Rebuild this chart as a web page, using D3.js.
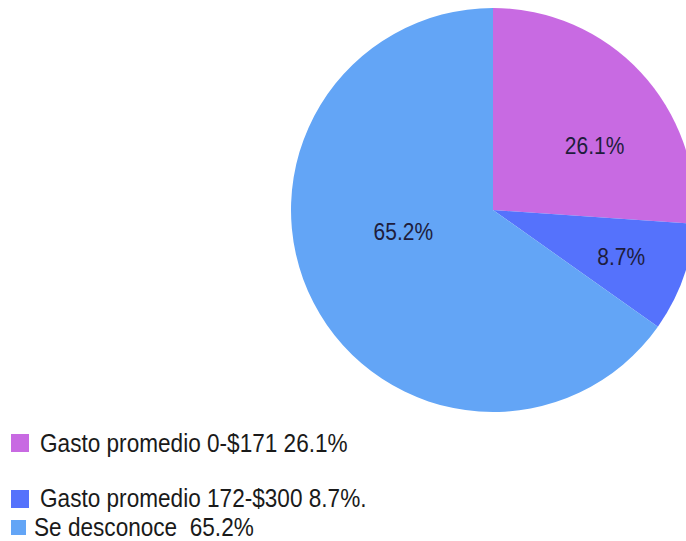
<!DOCTYPE html>
<html>
<head>
<meta charset="utf-8">
<script src="https://cdn.jsdelivr.net/npm/d3@7"></script>
<style>
  body { margin: 0; background: #fff; }
  svg { display: block; }
  text { white-space: pre; }
</style>
</head>
<body>
<div id="chart"></div>
<script>
// data
var categories = ["Gasto promedio 0-$171", "Gasto promedio 172-$300", "Se desconoce"];
var values = [26.1, 8.7, 65.2];
var sliceLabels = ["26.1%", "8.7%", "65.2%"];
var legendLabels = ["Gasto promedio 0-$171 26.1%", "Gasto promedio 172-$300 8.7%.", "Se desconoce  65.2%"];
var colors = ["#c86ae2", "#5572fc", "#63a5f6"];

// layout
var width = 686, height = 541;
var cx = 493, cy = 210, radius = 202;
var labelNudge = [[13, 27], [14, 14], [18, -26]];
var legendRows = [
  { y: 434, box: 18, textX: 40, base: 452 },
  { y: 490, box: 18, textX: 40, base: 507 },
  { y: 520, box: 15, textX: 34, base: 536 }
];
var fontFamily = "Liberation Sans, Arial, sans-serif";

var svg = d3.select("#chart").append("svg")
  .attr("width", width)
  .attr("height", height);

var pie = d3.pie().sort(null).value(function(d){ return d; });
var arcs = pie(values);

var arc = d3.arc().innerRadius(0).outerRadius(radius);
var labelArc = d3.arc().innerRadius(radius * 0.6).outerRadius(radius * 0.6);

var g = svg.append("g")
  .attr("transform", "translate(" + cx + "," + cy + ")");

g.selectAll("path")
  .data(arcs)
  .enter().append("path")
  .attr("d", arc)
  .attr("fill", function(d, i){ return colors[i]; });

// slice labels (the source font is a little taller than Arial, so stretch it)
g.selectAll("text")
  .data(arcs)
  .enter().append("text")
  .attr("transform", function(d, i){
    var c = labelArc.centroid(d);
    return "translate(" + (c[0] + labelNudge[i][0]) + "," + (c[1] + labelNudge[i][1]) + ") scale(1,1.15)";
  })
  .attr("text-anchor", "middle")
  .attr("font-family", fontFamily)
  .attr("font-size", 21)
  .attr("fill", "#1e1d3c")
  .text(function(d, i){ return sliceLabels[i]; });

// legend
var legend = svg.selectAll("g.legend")
  .data(legendLabels)
  .enter().append("g")
  .attr("class", "legend");

legend.append("rect")
  .attr("x", 11)
  .attr("y", function(d, i){ return legendRows[i].y; })
  .attr("width", function(d, i){ return legendRows[i].box; })
  .attr("height", function(d, i){ return legendRows[i].box; })
  .attr("fill", function(d, i){ return colors[i]; });

legend.append("text")
  .attr("transform", function(d, i){
    return "translate(" + legendRows[i].textX + "," + legendRows[i].base + ") scale(1,1.12)";
  })
  .attr("font-family", fontFamily)
  .attr("font-size", 22.6)
  .attr("fill", "#1a1a1a")
  .text(function(d){ return d; });
</script>
</body>
</html>
